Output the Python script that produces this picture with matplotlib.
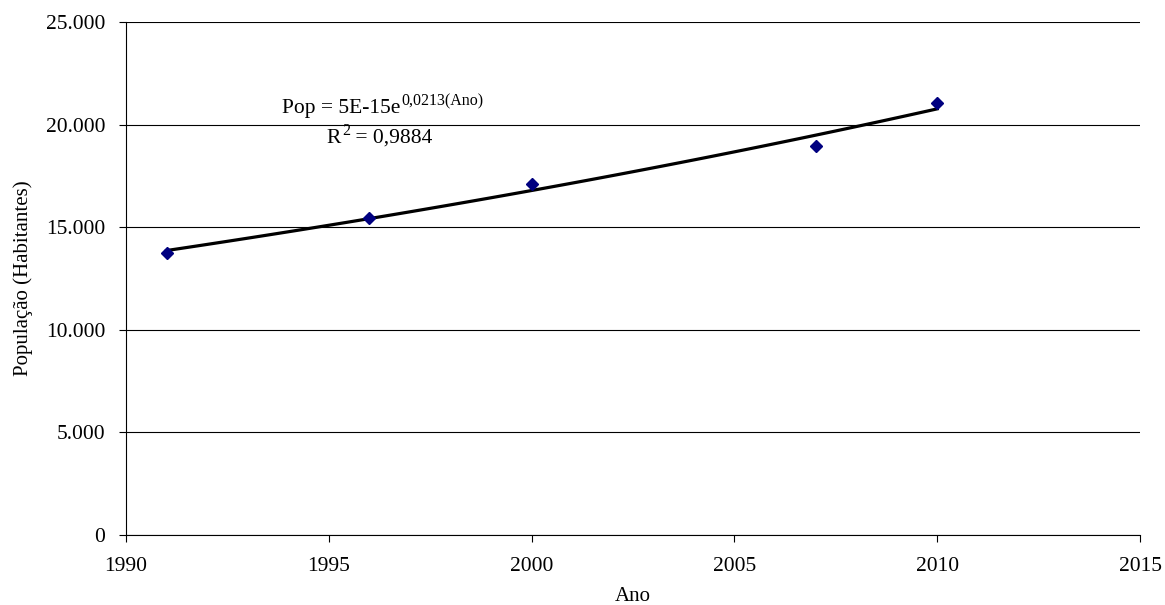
import numpy as np
import matplotlib.pyplot as plt
from matplotlib.ticker import FuncFormatter

# dados
anos = [1991, 1996, 2000, 2007, 2010]
populacao = [13760, 15460, 17100, 18970, 21040]
x_ticks = [1990, 1995, 2000, 2005, 2010, 2015]
y_ticks = [0, 5000, 10000, 15000, 20000, 25000]

plt.rcParams['font.family'] = ['Liberation Serif', 'DejaVu Serif']

fig = plt.figure(figsize=(11.65, 6.05), dpi=100)
ax = fig.add_axes([126 / 1165, 1 - 535 / 605, (1140 - 126) / 1165, (535 - 22) / 605])

# linha de tendencia exponencial (ajuste sobre os dados)
b, ln_a = np.polyfit(anos, np.log(populacao), 1)
xt = np.linspace(anos[0], anos[-1], 100)
ax.plot(xt, np.exp(ln_a + b * xt), color='black', lw=2.3, zorder=2)

ax.plot(anos, populacao, linestyle='none', marker='D', markersize=6,
        color='#000080', zorder=3)

ax.set_xlim(1990, 2015)
ax.set_ylim(0, 25000)
ax.set_xticks(x_ticks)
ax.set_yticks(y_ticks)
ax.yaxis.set_major_formatter(FuncFormatter(lambda v, p: f"{int(v):,}".replace(",", ".")))
ax.grid(axis='y', color='black', lw=0.8)
ax.set_axisbelow(True)
for s in ['top', 'right']:
    ax.spines[s].set_visible(False)
ax.tick_params(labelsize=15.5, length=5, color='black')
ax.tick_params(axis='x', pad=11)
ax.tick_params(axis='y', pad=10)

ax.set_xlabel('Ano', fontsize=15, labelpad=8)
ax.set_ylabel('População (Habitantes)', fontsize=15, labelpad=9)

# equacao da tendencia, com expoentes como textos separados
t1 = ax.text(1993.85, 20565, 'Pop = 5E-15e', fontsize=15.5, ha='left', va='baseline')
ax.annotate('0,0213(Ano)', xy=(1, 0), xycoords=t1, xytext=(0.5, 6),
            textcoords='offset points', fontsize=11.5, ha='left', va='bottom')
t2 = ax.text(1994.95, 19120, 'R', fontsize=15.5, ha='left', va='baseline')
t3 = ax.annotate('2', xy=(1, 0), xycoords=t2, xytext=(0.5, 6),
                 textcoords='offset points', fontsize=11.5, ha='left', va='bottom')
ax.annotate(' = 0,9884', xy=(1, 0), xycoords=(t3, t2), xytext=(0, 0),
            textcoords='offset points', fontsize=15.5, ha='left', va='bottom')

fig.savefig('out.png', dpi=100)
